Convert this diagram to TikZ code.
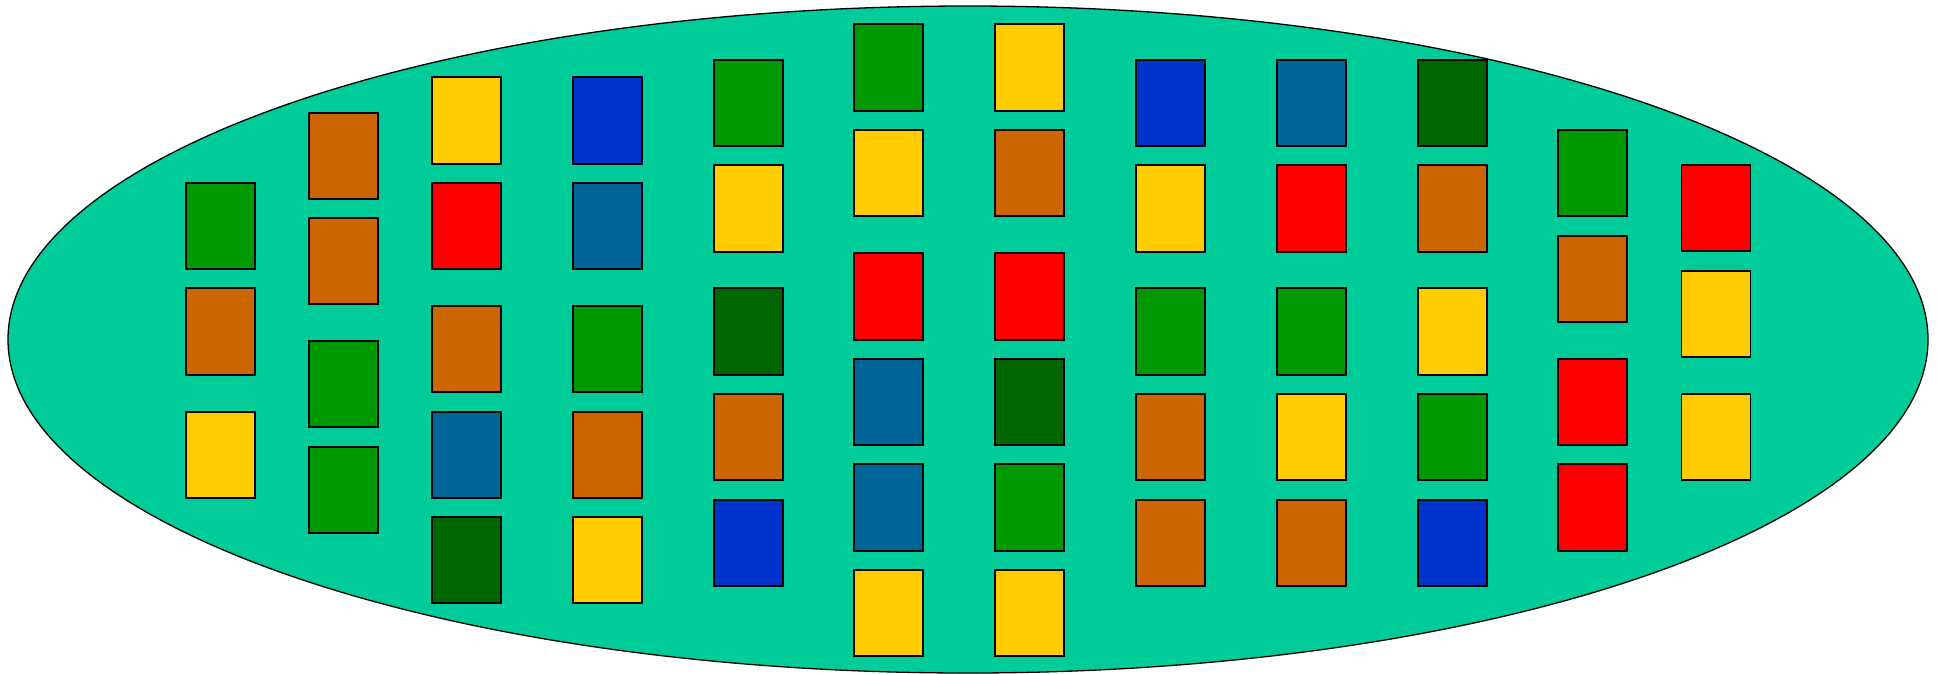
\documentclass[tikz,border=0pt]{standalone}
\definecolor{cE}{HTML}{00CC99}
\definecolor{cG}{HTML}{009900}
\definecolor{cD}{HTML}{006600}
\definecolor{cO}{HTML}{CC6600}
\definecolor{cY}{HTML}{FFCC00}
\definecolor{cR}{HTML}{FF0000}
\definecolor{cB}{HTML}{0033CC}
\definecolor{cT}{HTML}{006699}
\tikzset{
  cellbox/.style={rectangle, draw=black, line width=1.9pt, inner sep=0pt, outer sep=0pt,
    minimum width=69pt, minimum height=86.3pt},
  body/.style={draw=black, line width=1.3pt, fill=cE}
}
\begin{document}
\begin{tikzpicture}[x=1pt,y=-1pt]
\useasboundingbox (0,0) rectangle (1937,673);
\clip (0,0) rectangle (1937,673);
\draw[body] (968,339.5) ellipse [x radius=960, y radius=333.5];
\foreach \xl/\items [count=\i] in {
  184.8/{182/G,287.3/O,410.7/Y},
  308/{111.7/O,217/O,340/G,445.7/G},
  431.2/{76.3/Y,182/R,305/O,410.7/T,516/D},
  572.1/{76.3/B,182/T,305/G,410.7/O,516/Y},
  713/{58.7/G,164.3/Y,287.3/D,393/O,498.7/B},
  853.4/{23.3/G,129/Y,252.3/R,357.7/T,463.3/T,569/Y},
  994.4/{23.3/Y,129/O,252.3/R,357.7/D,463.3/G,569/Y},
  1135.4/{58.7/B,164.3/Y,287.3/G,393/O,498.7/O},
  1276.4/{58.7/T,164.3/R,287.3/G,393/Y,498.7/O},
  1416.8/{58.7/D,164.3/O,287.3/Y,393/G,498.7/B},
  1557.3/{129/G,234.7/O,357.7/R,463.3/R},
  1680.5/{164.1/R,270/Y,393/Y}} {
  \foreach \yt/\c [count=\j] in \items {
    \node[cellbox, fill=c\c] (cell-\i-\j) at (\xl+35.5, \yt+44.1) {};
  }
}
\end{tikzpicture}
\end{document}
